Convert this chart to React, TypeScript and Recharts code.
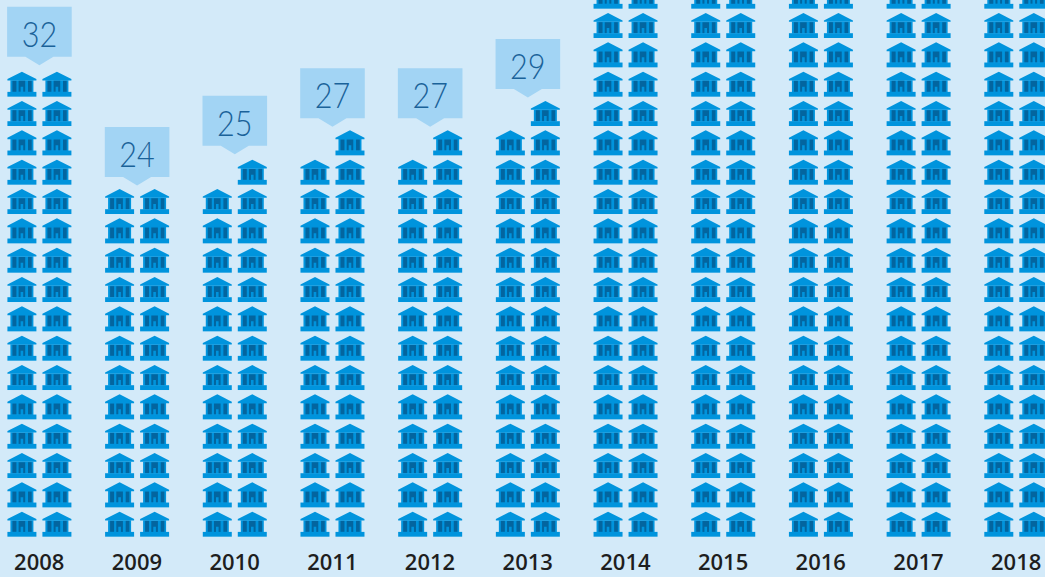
import React from "react";
import { BarChart, Bar, XAxis, YAxis, LabelList } from "recharts";

const years = ["2008", "2009", "2010", "2011", "2012", "2013", "2014", "2015", "2016", "2017", "2018"];
// Icon totals. 2014-2018 run off the top of the picture: 38 is what is visible, the least they can be.
const totals = [32, 24, 25, 27, 27, 29, 38, 38, 38, 38, 38];
// Callout numbers that can be read in the picture; the others lie beyond the top edge.
const callouts = [32, 24, 25, 27, 27, 29, null, null, null, null, null];

const chartData = years.map((year, i) => ({
  year,
  left: Math.floor(totals[i] / 2),
  right: Math.ceil(totals[i] / 2),
  callout: callouts[i],
}));

const BG = "#d3eaf9";
const BOX = "#a2d4f4";
const BLUE = "#0094dd";
const DARK = "#03659f";
const INK = "#1a6299";
const ICON_H = 25;
// Height of each callout's top edge above its column, by position (styling, not data).
const CALLOUT_LIFT = [65, 62, 64, 62, 62, 62];

function Icon({ x, y }: { x: number; y: number }) {
  return (
    <g transform={`translate(${x},${y})`}>
      <path d="M14.5 0 L29 7.4 L29 8.8 L0 8.8 L0 7.4 Z" fill={BLUE} />
      <rect x={3} y={8.6} width={23} height={12} fill={BLUE} />
      <rect x={5} y={9.2} width={4} height={11} fill={DARK} />
      <path d="M11.2 9.2 H17.8 V20.2 H15.8 V15 H13.2 V20.2 H11.2 Z" fill={DARK} />
      <rect x={20.6} y={9.2} width={3.7} height={11} fill={DARK} />
      <rect x={0} y={20.2} width={29} height={4.8} fill={BLUE} />
    </g>
  );
}

function IconColumn(props: any) {
  const { x, y, width, height, value } = props;
  const rows = Array.isArray(value) ? value[1] - value[0] : value;
  const pitch = height / rows;
  const icons = [];
  for (let i = 0; i < rows; i++) {
    icons.push(<Icon key={i} x={x + (width - 29) / 2} y={y + height - i * pitch - ICON_H} />);
  }
  return <g>{icons}</g>;
}

function Callout(props: any) {
  const { x, y, width, value, index } = props;
  if (value === null || value === undefined) return null;
  const cx = x + width / 2 - 17.5;
  const iconTop = y + 4.33;
  const top = iconTop - (CALLOUT_LIFT[index] ?? 62);
  const bottom = top + 50;
  const d = `M${cx - 32.3} ${top} H${cx + 32.3} V${bottom} H${cx + 14} L${cx} ${bottom + 8.5} L${cx - 14} ${bottom} H${cx - 32.3} Z`;
  return (
    <g>
      <path d={d} fill={BOX} />
      <text
        x={cx}
        y={top + 27.5}
        dy="0.36em"
        textAnchor="middle"
        fontFamily="Lato"
        fontWeight={300}
        fontSize={35}
        textLength={35.5}
        lengthAdjust="spacingAndGlyphs"
        fill={INK}
      >
        {value}
      </text>
    </g>
  );
}

export default function App() {
  return (
    <div style={{ position: "absolute", left: 0, top: 0, width: 1045, height: 577, overflow: "hidden", background: BG }}>
      <div style={{ position: "absolute", left: -10, top: -49.7 }}>
        <BarChart
          width={1075}
          height={626.7}
          data={chartData}
          margin={{ top: 0, right: 0, bottom: 0, left: 0.4 }}
          barSize={29}
          barGap={6}
        >
          <XAxis
            dataKey="year"
            axisLine={false}
            tickLine={false}
            height={40}
            interval={0}
            tickMargin={12}
            tick={{ fontFamily: "'Open Sans'", fontWeight: 600, fontSize: 22, fill: "#1e1e1e" }}
          />
          <YAxis hide type="number" domain={[0, 20]} />
          <Bar dataKey="left" isAnimationActive={false} shape={IconColumn} />
          <Bar dataKey="right" isAnimationActive={false} shape={IconColumn}>
            <LabelList dataKey="callout" content={Callout} />
          </Bar>
        </BarChart>
      </div>
    </div>
  );
}
